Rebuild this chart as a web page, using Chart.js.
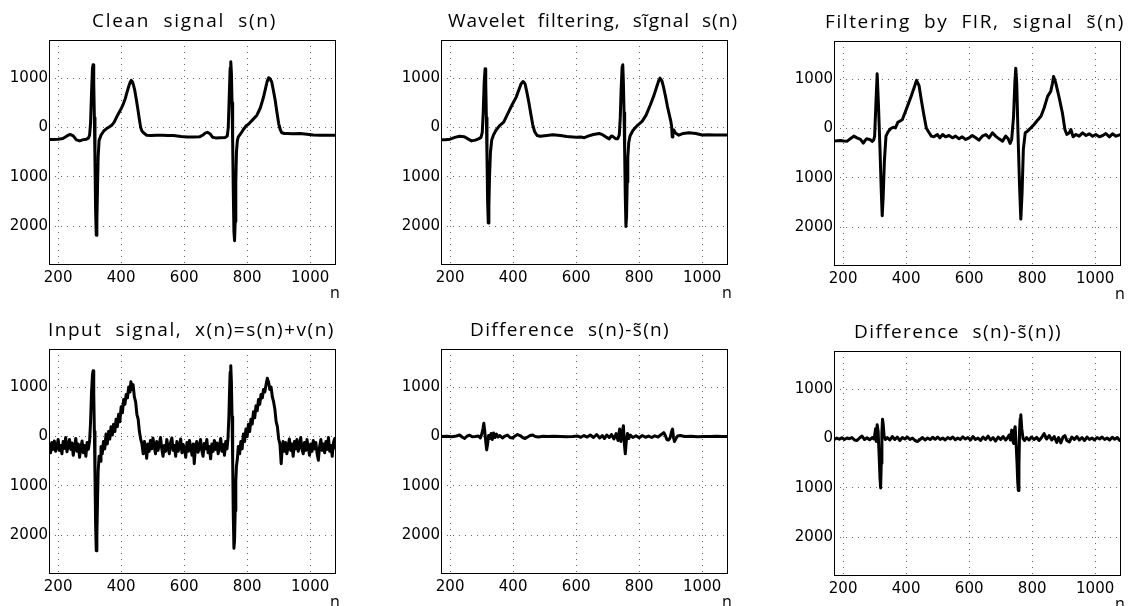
<!DOCTYPE html>
<html><head><meta charset="utf-8">
<script src="https://cdn.jsdelivr.net/npm/chart.js@4"></script>
<style>
html,body{margin:0;padding:0;background:#fff;overflow:hidden;width:1137px;height:606px;position:relative;}
canvas{position:absolute;}
</style></head><body>
<script>
// ---------- tick labels ----------
const xTicks = [200, 400, 600, 800, 1000];
const yTicks = [-2000, -1000, 0, 1000];
const xLabel = 'n';

// ---------- titles ----------
const titles = [
  'Clean  signal  s(n)',
  'Wavelet  filtering,  sĩgnal  s(n)',
  'Filtering  by  FIR,  signal  s̃(n)',
  'Input  signal,  x(n)=s(n)+v(n)',
  'Difference  s(n)-s̃(n)',
  'Difference  s(n)-s̃(n))'
];

// ---------- series: [n, value] ----------
const cleanSignal = [[171,-240],[185,-240],[200,-238],[215,-222],[228,-170],[238,-140],[248,-170],[258,-250],[268,-270],[280,-245],[290,-235],[296,-215],[300,-150],[303,100],[306,700],[309,1200],[311,1270],[313,900],[315,200],[317,-700],[319,-1700],[321,-2180],[323,-1900],[325,-1200],[327,-600],[330,-260],[336,-155],[345,-70],[354,-20],[362,10],[370,45],[378,110],[386,215],[393,300],[400,380],[407,480],[413,584],[419,720],[425,850],[429,920],[432,953],[436,920],[439,860],[443,760],[446,650],[449,530],[452,416],[457,200],[462,0],[466,-70],[471,-107],[481,-155],[495,-160],[513,-155],[530,-158],[550,-160],[566,-162],[590,-180],[610,-190],[630,-190],[650,-185],[660,-150],[668,-108],[674,-98],[682,-125],[690,-195],[700,-210],[715,-205],[730,-200],[737,-170],[740,0],[743,600],[746,1200],[748,1330],[750,1100],[752,500],[754,-300],[756,-1300],[758,-2100],[760,-2290],[762,-1900],[764,-1100],[766,-500],[769,-260],[772,-190],[780,-120],[788,-40],[796,30],[804,67],[818,160],[831,250],[842,400],[852,617],[858,780],[863,920],[868,1007],[872,990],[878,920],[883,760],[889,550],[894,330],[900,80],[905,-40],[910,-107],[918,-120],[926,-120],[945,-125],[968,-120],[990,-135],[1010,-150],[1032,-155],[1055,-155],[1082,-158]];

const waveletSignal = [[170,-245],[185,-245],[200,-235],[215,-200],[230,-175],[245,-185],[258,-235],[268,-270],[280,-255],[290,-230],[298,-200],[302,-100],[305,300],[308,900],[311,1190],[313,900],[315,200],[317,-600],[319,-1500],[321,-1930],[323,-1600],[325,-1000],[328,-500],[332,-250],[337,-160],[345,-60],[357,40],[370,110],[383,280],[396,450],[410,620],[418,760],[425,880],[431,930],[435,910],[438,880],[444,700],[450,500],[456,280],[462,60],[468,-80],[476,-160],[486,-175],[500,-165],[526,-145],[550,-160],[570,-180],[589,-190],[600,-195],[615,-190],[626,-205],[640,-170],[655,-140],[673,-120],[685,-150],[697,-200],[705,-230],[712,-170],[718,-190],[725,-225],[732,-225],[737,-150],[740,200],[743,800],[746,1230],[748,1270],[750,900],[752,300],[754,-500],[756,-1400],[758,-2000],[760,-1800],[762,-1100],[764,-600],[767,-300],[771,-170],[780,-60],[794,40],[810,130],[822,250],[835,450],[847,650],[857,850],[863,960],[866,1000],[872,950],[878,800],[884,620],[890,420],[896,250],[900,140],[903,30],[905,-190],[907,-100],[910,-50],[915,-110],[926,-155],[940,-120],[958,-105],[980,-120],[1000,-150],[1020,-145],[1040,-150],[1060,-150],[1082,-150]];

const firSignal = [[172,-255],[182,-245],[191,-242],[202,-250],[213,-255],[224,-200],[234,-154],[244,-188],[255,-221],[264,-295],[270,-240],[274,-208],[280,-215],[285,-221],[292,-262],[297,-230],[300,-154],[304,500],[308,1107],[312,500],[317,-420],[321,-1250],[324,-1765],[327,-1400],[331,-650],[336,-154],[342,-74],[350,-5],[359,25],[366,13],[374,128],[380,148],[388,181],[396,315],[406,483],[416,651],[425,819],[433,973],[441,866],[448,584],[456,282],[464,13],[472,-74],[480,-154],[488,-168],[499,-121],[507,-188],[516,-121],[525,-168],[536,-141],[547,-188],[557,-154],[568,-208],[578,-168],[589,-221],[600,-188],[610,-141],[621,-188],[631,-235],[642,-154],[653,-121],[663,-188],[674,-87],[684,-154],[695,-208],[706,-255],[716,-154],[724,-208],[730,-302],[735,-221],[741,248],[745,919],[748,1221],[751,919],[755,-87],[760,-1161],[764,-1832],[768,-1295],[772,-423],[778,-87],[785,-54],[796,13],[806,81],[817,168],[828,248],[838,416],[849,651],[859,752],[864,900],[868,1054],[875,919],[886,617],[896,315],[904,-20],[910,-120],[918,-87],[923,-20],[930,-168],[939,-121],[949,-154],[960,-87],[971,-141],[981,-107],[992,-154],[1002,-121],[1013,-168],[1024,-141],[1034,-101],[1045,-168],[1055,-107],[1066,-154],[1082,-121]];

const inputSignal = [[172,-150],[176,-330],[180,-120],[184,-260],[188,-90],[192,-300],[196,-210],[200,-60],[204,-280],[208,-180],[212,-350],[216,-100],[220,-240],[224,-20],[228,-310],[232,-170],[236,-60],[240,-260],[244,-130],[248,-380],[252,-200],[256,-40],[260,-300],[264,-150],[268,-420],[272,-230],[276,-90],[280,-330],[284,-180],[288,-400],[292,-120],[296,-260],[300,-80],[303,300],[306,900],[309,1250],[311,1330],[313,900],[315,100],[317,-800],[319,-1800],[321,-2310],[323,-2000],[325,-1300],[327,-700],[330,-400],[333,-500],[336,-200],[340,-350],[344,-100],[348,-250],[352,50],[356,-150],[360,100],[364,-50],[368,200],[372,30],[376,250],[380,100],[384,350],[388,200],[392,450],[396,300],[400,600],[404,480],[408,750],[412,650],[416,850],[420,780],[424,1000],[428,900],[431,1110],[434,950],[438,1050],[442,800],[446,700],[450,450],[454,350],[458,100],[462,-50],[466,-150],[470,-350],[474,-100],[478,-250],[481,-440],[485,-150],[489,-300],[493,-80],[497,-250],[501,-30],[505,-200],[509,-350],[513,-100],[517,-280],[521,-150],[525,-20],[529,-250],[533,-400],[537,-180],[541,-300],[545,-60],[549,-220],[553,-350],[557,-120],[561,-30],[565,-280],[569,-180],[573,-400],[577,-100],[581,-300],[585,-200],[589,-50],[593,-330],[597,-160],[601,-250],[605,-420],[609,-120],[613,-300],[617,-80],[621,-230],[625,-380],[629,-150],[632,-550],[636,-200],[640,-100],[644,-320],[648,-230],[652,-60],[656,-280],[660,-400],[664,-140],[668,-250],[672,-60],[676,-330],[680,-200],[684,-450],[688,-150],[692,-300],[696,-80],[700,-260],[704,-130],[708,-350],[712,-200],[716,-40],[720,-300],[724,-160],[728,-380],[732,-100],[736,-250],[739,-50],[742,400],[744,900],[746,1300],[748,1430],[750,1100],[752,400],[754,-500],[756,-1600],[758,-2260],[760,-2100],[762,-1500],[764,-900],[766,-600],[769,-450],[772,-200],[776,-350],[780,-100],[784,-250],[788,50],[792,-100],[796,150],[800,0],[804,250],[808,100],[812,350],[816,250],[820,500],[824,380],[828,620],[832,520],[836,750],[840,650],[844,850],[848,780],[852,950],[856,900],[860,1050],[864,1180],[868,1100],[872,950],[876,1000],[880,800],[884,700],[888,550],[892,300],[896,200],[900,-50],[904,-150],[908,-550],[911,-250],[914,-100],[918,-300],[922,-120],[926,-350],[930,-200],[934,-50],[938,-280],[942,-150],[946,-400],[950,-100],[954,-250],[958,-60],[962,-300],[966,-180],[970,-20],[974,-260],[978,-350],[982,-120],[986,-280],[990,-60],[994,-230],[998,-380],[1002,-150],[1006,-300],[1010,-80],[1014,-250],[1018,-120],[1022,-350],[1026,-480],[1030,-200],[1034,-60],[1038,-280],[1042,-150],[1046,-330],[1050,-100],[1054,-260],[1058,-20],[1062,-300],[1066,-180],[1070,-400],[1074,-120],[1078,-40],[1082,-250]];

const diffWavelet = [[172,0],[190,5],[205,-5],[220,10],[230,30],[238,-10],[246,-40],[254,10],[262,25],[270,-5],[280,0],[290,10],[296,-30],[300,40],[304,150],[307,270],[310,100],[313,-100],[316,-270],[319,-150],[322,20],[326,-40],[330,60],[334,-60],[338,70],[342,-20],[347,50],[352,-10],[358,20],[366,-30],[374,10],[382,30],[390,-20],[398,-30],[406,10],[414,40],[422,20],[430,-20],[438,-40],[446,-10],[454,20],[462,30],[470,0],[480,-10],[495,5],[510,0],[530,5],[550,0],[570,-5],[590,0],[605,10],[615,-15],[625,20],[635,-10],[645,30],[655,-20],[665,40],[675,-30],[683,20],[690,-40],[697,30],[705,-20],[712,40],[720,-50],[727,60],[733,-80],[738,150],[742,-100],[746,80],[750,220],[753,-150],[756,-350],[759,-100],[763,60],[767,-40],[772,30],[780,-20],[790,15],[800,-25],[810,20],[820,-15],[830,10],[840,-20],[850,15],[860,-10],[868,30],[874,60],[878,80],[883,20],[888,-60],[893,-70],[898,-30],[903,100],[906,150],[909,-20],[912,-100],[916,-50],[922,10],[930,20],[945,0],[965,5],[985,-5],[1005,0],[1025,0],[1045,5],[1065,0],[1082,0]];

const diffFir = [[172,-20],[180,10],[188,-15],[196,15],[204,-20],[212,10],[220,-5],[228,20],[236,-30],[244,-40],[252,10],[260,50],[268,-20],[276,15],[284,-25],[292,20],[298,-10],[300,60],[303,200],[305,-60],[308,280],[311,150],[314,-300],[317,-800],[319,-1000],[321,-500],[323,100],[325,390],[327,300],[330,50],[334,-20],[340,20],[348,-30],[356,40],[364,-20],[372,30],[380,-40],[388,20],[396,-10],[404,30],[412,-20],[420,10],[428,-40],[436,-60],[444,-20],[452,20],[460,-30],[468,10],[476,-20],[484,25],[492,-15],[500,30],[508,-20],[516,10],[524,-30],[532,20],[540,-10],[548,30],[556,-25],[564,10],[572,-20],[580,35],[588,-10],[596,20],[604,-30],[612,40],[620,-20],[628,10],[636,-40],[644,30],[652,-20],[660,50],[668,-30],[676,20],[684,-50],[692,30],[700,-20],[708,40],[716,-30],[722,20],[727,70],[731,-30],[735,170],[739,-50],[741,-100],[744,180],[746,240],[749,-100],[752,-500],[754,-850],[756,-1050],[758,-600],[760,150],[762,400],[764,480],[767,200],[771,0],[776,-40],[782,20],[790,-30],[798,30],[806,-20],[814,25],[822,-40],[830,20],[838,100],[846,-10],[854,60],[862,-30],[870,40],[878,-80],[884,20],[891,-90],[898,30],[904,60],[910,-40],[918,-70],[926,30],[934,-20],[942,40],[950,-30],[958,20],[966,-40],[974,30],[982,-20],[990,10],[998,-30],[1006,20],[1014,-10],[1022,30],[1030,-20],[1038,10],[1046,-30],[1054,25],[1062,-15],[1070,20],[1078,-40],[1082,-30]];

const seriesList = [cleanSignal, waveletSignal, firSignal, inputSignal, diffWavelet, diffFir];

// ---------- layout (pixels) ----------
const X_MIN = 171, X_MAX = 1082, Y_MIN = -2780, Y_MAX = 1770;
const panels = [
  {L:49,  T:40,  R:336,  B:265, tl:92,  tr:277},
  {L:441, T:40,  R:728,  B:265, tl:448, tr:738},
  {L:834, T:41,  R:1121, B:266, tl:825, tr:1125},
  {L:49,  T:349, R:336,  B:574, tl:48,  tr:335},
  {L:441, T:349, R:728,  B:574, tl:470, tr:670},
  {L:834, T:351, R:1121, B:576, tl:854, tr:1062}
];
const OFF_L = 49, OFF_T = 40, OFF_R = 43, OFF_B = 40;

const framePlugin = {
  id: 'frame',
  afterDraw(chart, args, opts) {
    const ctx = chart.ctx, a = chart.chartArea;
    ctx.save();
    ctx.strokeStyle = '#000';
    ctx.lineWidth = 1;
    ctx.setLineDash([]);
    ctx.strokeRect(Math.round(a.left) + 0.5, Math.round(a.top) + 0.5,
                   Math.round(a.right - a.left) - 1, Math.round(a.bottom - a.top) - 1);
    // title stretched to reference extents
    ctx.fillStyle = '#000';
    ctx.font = '19px "Open Sans"';
    ctx.textBaseline = 'alphabetic';
    ctx.textAlign = 'left';
    ctx.letterSpacing = '0px';
    const w = ctx.measureText(opts.title).width;
    const nch = [...opts.title].filter(ch => !/[\u0300-\u036f]/.test(ch)).length;
    const target = opts.tr - opts.tl;
    const ls = Math.max(0, (target - w) / nch);
    ctx.letterSpacing = ls.toFixed(2) + 'px';
    ctx.fillText(opts.title, opts.tl - opts.cx, a.top - 13);
    ctx.letterSpacing = '0px';
    // x label "n"
    ctx.font = '16px "Open Sans"';
    ctx.textAlign = 'center';
    ctx.fillText(xLabel, a.right - 1, a.bottom + 33);
    ctx.restore();
  }
};

seriesList.forEach((series, i) => {
  const P = panels[i];
  const cw = (P.R - P.L) + OFF_L + OFF_R;
  const ch = (P.B - P.T) + OFF_T + OFF_B;
  const cv = document.createElement('canvas');
  const cx = P.L - OFF_L, cy = P.T - OFF_T;
  cv.style.left = cx + 'px';
  cv.style.top = cy + 'px';
  cv.width = cw; cv.height = ch;
  cv.style.width = cw + 'px'; cv.style.height = ch + 'px';
  document.body.appendChild(cv);
  new Chart(cv, {
    type: 'line',
    data: { datasets: [{
      data: series.map(p => ({x: p[0], y: p[1]})),
      borderColor: '#000', borderWidth: 3, pointRadius: 0, tension: 0,
      borderJoinStyle: 'round', borderCapStyle: 'round', fill: false
    }]},
    options: {
      responsive: false, animation: false, devicePixelRatio: 1,
      layout: { padding: { left: 0, top: OFF_T, right: OFF_R, bottom: 0 } },
      plugins: {
        legend: { display: false }, tooltip: { enabled: false },
        frame: { title: titles[i], tl: P.tl, tr: P.tr, cx: cx }
      },
      scales: {
        x: {
          type: 'linear', min: X_MIN, max: X_MAX,
          afterFit(s) { s.height = OFF_B; },
          afterBuildTicks(s) { s.ticks = xTicks.map(v => ({value: v})); },
          grid: { color: '#666', lineWidth: 1, drawTicks: false },
          border: { display: false, dash: [1, 5] },
          ticks: { font: { family: 'DejaVu Sans', size: 15 }, color: '#000', padding: 4, maxRotation: 0, autoSkip: false,
                   callback: v => String(v) }
        },
        y: {
          type: 'linear', min: Y_MIN, max: Y_MAX,
          afterFit(s) { s.width = OFF_L; },
          afterBuildTicks(s) { s.ticks = yTicks.map(v => ({value: v})); },
          grid: { color: '#666', lineWidth: 1, drawTicks: false },
          border: { display: false, dash: [1, 5] },
          ticks: { font: { family: 'DejaVu Sans', size: 15 }, color: '#000', padding: 1,
                   callback: v => String(Math.abs(v)) }
        }
      }
    },
    plugins: [framePlugin]
  });
});
</script>
</body></html>
